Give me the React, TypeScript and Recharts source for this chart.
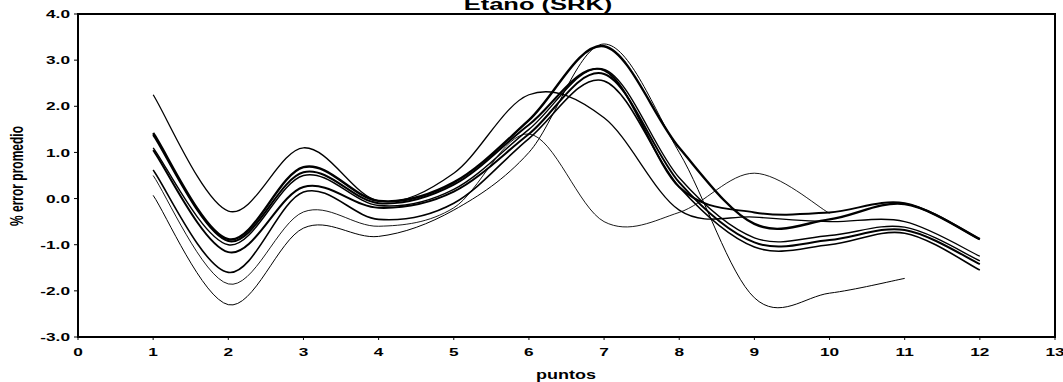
import React from 'react';
import { LineChart, Line, XAxis, YAxis, ReferenceArea } from 'recharts';

// x positions (puntos)
const puntos = [1, 2, 3, 4, 5, 6, 7, 8, 9, 10, 11, 12];

// % error promedio series, one value per punto (null = no point)
const serieA = [2.25, -0.27, 1.1, -0.05, 0.55, 2.25, 1.75, -0.25, -0.4, -0.5, -0.5, -1.25];
const serieB = [1.42, -0.88, 0.68, -0.05, 0.35, 1.7, 3.3, 1.1, -0.55, -0.45, -0.12, -0.88];
const serieC = [1.38, -0.92, 0.57, -0.1, 0.3, 1.6, 2.78, 0.25, -0.3, -0.3, -0.1, -0.88];
const serieD = [1.1, -1.0, 0.5, -0.15, 0.2, 1.5, 2.8, 0.45, -0.85, -0.8, -0.62, -1.35];
const serieE = [1.05, -1.16, 0.25, -0.2, 0.15, 1.4, 2.7, 0.35, -0.95, -0.9, -0.68, -1.42];
const serieF = [0.62, -1.6, 0.14, -0.45, -0.1, 1.3, 2.55, 0.25, -1.05, -1.0, -0.75, -1.55];
const serieG = [0.5, -1.85, -0.29, -0.6, -0.2, 1.4, -0.5, -0.3, 0.55, -0.32, null, null];
const serieH = [0.07, -2.3, -0.64, -0.82, -0.25, 1.0, 3.35, 1.0, -2.15, -2.05, -1.73, null];

const xTicks = [0, 1, 2, 3, 4, 5, 6, 7, 8, 9, 10, 11, 12, 13];
const yTicks = [-3, -2, -1, 0, 1, 2, 3, 4];

const seriesDefs = [
  { key: 'A', values: serieA, width: 1.3 },
  { key: 'B', values: serieB, width: 2.4 },
  { key: 'C', values: serieC, width: 2.0 },
  { key: 'D', values: serieD, width: 1.4 },
  { key: 'E', values: serieE, width: 2.0 },
  { key: 'F', values: serieF, width: 1.6 },
  { key: 'G', values: serieG, width: 0.9 },
  { key: 'H', values: serieH, width: 1.0 },
];

const rows = puntos.map((p, i) => {
  const r: Record<string, number | null> = { x: p };
  seriesDefs.forEach((s) => {
    r[s.key] = s.values[i];
  });
  return r;
});

// Excel-like smoothed line (Catmull-Rom Bezier)
function excelSmooth(context: any) {
  let pts: number[][] = [];
  return {
    areaStart() {},
    areaEnd() {},
    lineStart() {
      pts = [];
    },
    point(x: number, y: number) {
      pts.push([+x, +y]);
    },
    lineEnd() {
      const n = pts.length;
      if (n === 0) return;
      context.moveTo(pts[0][0], pts[0][1]);
      if (n === 1) return;
      for (let i = 0; i < n - 1; i++) {
        const p0 = pts[i - 1] || pts[i];
        const p1 = pts[i];
        const p2 = pts[i + 1];
        const p3 = pts[i + 2] || p2;
        context.bezierCurveTo(
          p1[0] + (p2[0] - p0[0]) / 6,
          p1[1] + (p2[1] - p0[1]) / 6,
          p2[0] - (p3[0] - p1[0]) / 6,
          p2[1] - (p3[1] - p1[1]) / 6,
          p2[0],
          p2[1]
        );
      }
    },
  };
}

const FONT = '"Liberation Sans", Arial, sans-serif';
const SX = 1.5;

const XTick = (props: any) => {
  const { x, y, payload } = props;
  return (
    <g transform={`translate(${x},${y + 14}) scale(${SX},1)`}>
      <text textAnchor="middle" fontFamily={FONT} fontWeight="bold" fontSize={11.5} fill="#000">
        {payload.value}
      </text>
    </g>
  );
};

const YTick = (props: any) => {
  const { x, y, payload } = props;
  return (
    <g transform={`translate(${x - 2},${y}) scale(${SX},1)`}>
      <text textAnchor="end" dy="0.36em" fontFamily={FONT} fontWeight="bold" fontSize={11.5} fill="#000">
        {Number(payload.value).toFixed(1)}
      </text>
    </g>
  );
};

export default function App() {
  return (
    <div style={{ position: 'absolute', left: 0, top: 0, width: 1063, height: 382, background: '#fff' }}>
      <LineChart
        width={1063}
        height={382}
        data={rows}
        margin={{ top: 14, right: 8, bottom: 0, left: 0 }}
      >
        <XAxis
          dataKey="x"
          type="number"
          domain={[0, 13]}
          ticks={xTicks}
          interval={0}
          height={45}
          axisLine={{ stroke: '#000', strokeWidth: 2 }}
          tickLine={{ stroke: '#000' }}
          tickSize={3}
          tick={<XTick />}
        />
        <YAxis
          type="number"
          domain={[-3, 4]}
          ticks={yTicks}
          interval={0}
          width={78}
          axisLine={{ stroke: '#000', strokeWidth: 2 }}
          tickLine={{ stroke: '#000' }}
          tickSize={4}
          tick={<YTick />}
        />
        <ReferenceArea x1={0} x2={13} y1={-3} y2={4} fill="none" stroke="#000" strokeWidth={2} ifOverflow="visible" />
        {seriesDefs.map((s) => (
          <Line
            key={s.key}
            dataKey={s.key}
            type={excelSmooth as any}
            stroke="#000"
            strokeWidth={s.width}
            dot={false}
            activeDot={false}
            isAnimationActive={false}
          />
        ))}
      </LineChart>
      <svg width={1063} height={382} style={{ position: 'absolute', left: 0, top: 0, pointerEvents: 'none' }}>
        <g transform={`translate(538,10) scale(${SX},1)`}>
          <text textAnchor="middle" fontFamily={FONT} fontWeight="bold" fontSize={17} fill="#000">
            Etano (SRK)
          </text>
        </g>
        <g transform={`translate(17,176) scale(${SX},1) rotate(-90)`}>
          <text textAnchor="middle" dy="0.35em" fontFamily={FONT} fontWeight="bold" fontSize={12} fill="#000">
            % error promedio
          </text>
        </g>
        <g transform={`translate(566,379) scale(${SX},1)`}>
          <text textAnchor="middle" fontFamily={FONT} fontWeight="bold" fontSize={12} fill="#000">
            puntos
          </text>
        </g>
      </svg>
    </div>
  );
}
